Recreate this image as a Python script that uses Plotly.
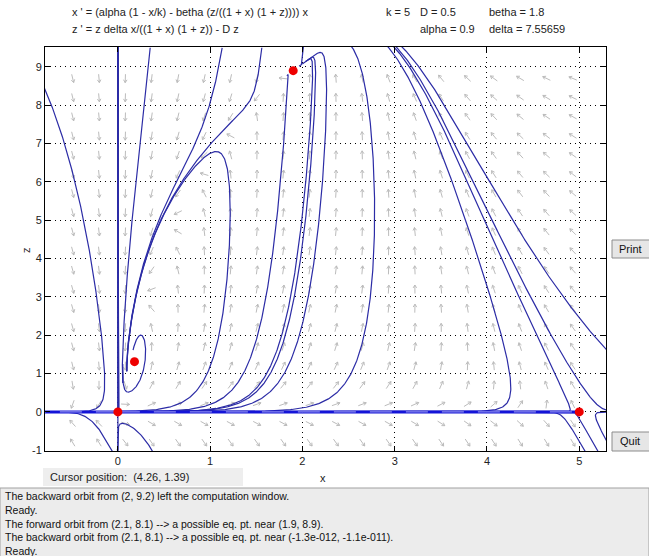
import numpy as np
import plotly.graph_objects as go

# ---- system parameters (from the header text) ----
alpha = 0.9
betha = 1.8
k = 5.0
D = 0.5
delta = 7.55659

# ---- window ----
X_RANGE = [-0.79, 5.29]
Z_RANGE = [-1.02, 9.52]
x_ticks = [0, 1, 2, 3, 4, 5]
z_ticks = [-1, 0, 1, 2, 3, 4, 5, 6, 7, 8, 9]

# ---- equilibrium points (red dots) ----
eq_x = [0.0, 5.0, 0.18, 1.9]
eq_z = [0.0, 0.0, 1.311, 8.902]

# ---- orbit seeds: start point, forward time, backward time, max winding near focus (rad) ----
seed_x = [-0.72, -0.20, 0.11, 0.0, 0.0,
          1.20, 1.67, 1.98, 2.13, 2.77,
          0.35, 1.13, 1.56,
          3.84, 4.07, 4.16, 4.41,
          4.96, 5.09, 5.24,
          0.30, 2.1, 2.0]
seed_z = [8.0, -0.47, -0.34, 5.0, -0.5,
          4.0, 4.0, 4.0, 4.0, 4.0,
          9.5, 9.5, 9.5,
          4.49, 4.49, 4.49, 4.49,
          -0.6, -0.55, -0.5,
          1.5, 8.1, 9.2]
t_fwd = [60, 60, 60, 80, 80,
         40, 40, 40, 40, 40,
         40, 40, 40,
         40, 40, 40, 40,
         40, 40, 40,
         7, 60, 60]
t_bwd = [60, 60, 60, 60, 60,
         40, 40, 40, 40, 40,
         0, 0, 0,
         40, 40, 40, 40,
         40, 40, 40,
         9, 60, 60]
wind = [9, 9, 9, 9, 9,
        2.4, 9, 9, 9, 9,
        2.4, 2.4, 2.4,
        9, 9, 9, 9,
        9, 9, 9,
        9, 9, 9]

# invariant line z = 0 (drawn heavy)
axis_seed_x = [-0.4, 2.5]
axis_seed_z = [0.0, 0.0]

# plot area in pixels
PL, PR, PT, PB = 45, 606, 47, 451
W, H = 649, 556
SX = (PR - PL) / (X_RANGE[1] - X_RANGE[0])
SZ = (PB - PT) / (Z_RANGE[1] - Z_RANGE[0])
FOCUS = (eq_x[2], eq_z[2])


def field(x, z):
    den = (1 + x) * (1 + z)
    return (alpha * (1 - x / k) - betha * (z / den)) * x, z * delta * x / den - D * z


def inside(x, z):
    return (X_RANGE[0] - 0.02 <= x <= X_RANGE[1] + 0.02) and (-0.995 <= z <= Z_RANGE[1] + 0.05)


def orbit(x0, z0, tmax, sgn, wlim=9.0):
    xs, zs = [x0], [z0]
    x, z, t = x0, z0, 0.0
    acc = 0.0
    prev = None
    while t < tmax:
        fx, fz = field(x, z)
        sp = np.hypot(fx * SX, fz * SZ)
        if sp < 1e-3:
            break
        h = min(1.2 / sp, 0.05) * sgn
        k1 = field(x, z)
        k2 = field(x + h / 2 * k1[0], z + h / 2 * k1[1])
        k3 = field(x + h / 2 * k2[0], z + h / 2 * k2[1])
        k4 = field(x + h * k3[0], z + h * k3[1])
        x = x + h / 6 * (k1[0] + 2 * k2[0] + 2 * k3[0] + k4[0])
        z = z + h / 6 * (k1[1] + 2 * k2[1] + 2 * k3[1] + k4[1])
        t += abs(h)
        xs.append(x)
        zs.append(z)
        dxp, dzp = (x - FOCUS[0]) * SX, (z - FOCUS[1]) * SZ
        if np.hypot(dxp, dzp) < 45:
            ang = np.arctan2(dzp, dxp)
            if prev is not None:
                d = (ang - prev + np.pi) % (2 * np.pi) - np.pi
                acc += abs(d)
            prev = ang
            if acc > wlim:
                break
        else:
            prev = None
        if not inside(x, z):
            if z < -0.99:
                dx, dz = xs[-1] - xs[-2], zs[-1] - zs[-2]
                if dz != 0:
                    s = (Z_RANGE[0] - 0.01 - zs[-1]) / dz
                    xs.append(xs[-1] + s * dx)
                    zs.append(Z_RANGE[0] - 0.01)
            break
    return xs, zs


def full_orbit(x0, z0, tf, tb, wl=9.0):
    bx, bz = orbit(x0, z0, tb, -1)
    fx, fz = orbit(x0, z0, tf, 1, wl)
    return bx[::-1] + fx[1:], bz[::-1] + fz[1:]


fig = go.Figure()

# ---- direction field arrows ----
arrow_cols = [-0.49 + 0.2853 * i for i in range(20)]
arrow_rows = [-0.8 + 0.5 * j for j in range(20)]
L = 8.5
HD = 3.4
ax_, az_ = [], []
for xc in arrow_cols:
    for zc in arrow_rows:
        fx, fz = field(xc, zc)
        ux, uz = fx * SX, fz * SZ
        n = np.hypot(ux, uz)
        if n == 0:
            continue
        ux, uz = ux / n, uz / n
        tx, tz = -L / 2 * ux, -L / 2 * uz
        hx, hz = L / 2 * ux, L / 2 * uz
        ax_ += [xc + tx / SX, xc + hx / SX, None]
        az_ += [zc + tz / SZ, zc + hz / SZ, None]
        for ang in (2.6, -2.6):
            c, s = np.cos(ang), np.sin(ang)
            bx = ux * c - uz * s
            bz = ux * s + uz * c
            ax_ += [xc + hx / SX, xc + (hx + HD * bx) / SX, None]
            az_ += [zc + hz / SZ, zc + (hz + HD * bz) / SZ, None]
fig.add_trace(go.Scatter(x=ax_, y=az_, mode="lines", line=dict(color="#bcbcbc", width=1),
                         hoverinfo="skip", showlegend=False))

# ---- orbits ----
for x0, z0, tf, tb, wl in zip(seed_x, seed_z, t_fwd, t_bwd, wind):
    ox, oz = full_orbit(x0, z0, tf, tb, wl)
    fig.add_trace(go.Scatter(x=ox, y=oz, mode="lines", line=dict(color="#2c2ca6", width=1.2),
                             hoverinfo="skip", showlegend=False))

for x0, z0 in zip(axis_seed_x, axis_seed_z):
    ox, oz = full_orbit(x0, z0, 80, 80)
    fig.add_trace(go.Scatter(x=ox, y=oz, mode="lines", line=dict(color="#1414d8", width=3),
                             hoverinfo="skip", showlegend=False))
    fig.add_trace(go.Scatter(x=ox, y=oz, mode="lines",
                             line=dict(color="#a8a8f0", width=1, dash="22px,14px"),
                             hoverinfo="skip", showlegend=False))

# ---- equilibria ----
fig.add_trace(go.Scatter(x=eq_x, y=eq_z, mode="markers",
                         marker=dict(color="#ee0000", size=9, line=dict(width=0)),
                         cliponaxis=False, hoverinfo="skip", showlegend=False))


def px(x):
    return (x - PL) / (PR - PL)


def py(y):
    return (PB - y) / (PB - PT)


FONT = "Liberation Sans, Arial, sans-serif"
ann = []


def text(x, y, s, size=11, anchor="left", color="#222"):
    ann.append(dict(x=px(x), y=py(y), xref="paper", yref="paper", text=s, showarrow=False,
                    xanchor=anchor, yanchor="middle", font=dict(family=FONT, size=size, color=color)))


text(70, 12, "x ' = (alpha (1 - x/k) - betha (z/((1 + x) (1 + z)))) x")
text(70, 29, "z ' = z delta x/((1 + x) (1 + z)) - D z")
text(384, 12, "k = 5")
text(418, 12, "D = 0.5")
text(487, 12, "betha = 1.8")
text(418, 29, "alpha = 0.9")
text(487, 29, "delta = 7.55659")
text(323, 478, "x", size=11, anchor="center")
ann.append(dict(x=px(18), y=py(250), xref="paper", yref="paper", text="z", showarrow=False,
                textangle=-90, font=dict(family=FONT, size=11, color="#222")))
text(48, 477, "Cursor position:  (4.26, 1.39)")
msgs = ["The backward orbit from (2, 9.2) left the computation window.",
        "Ready.",
        "The forward orbit from (2.1, 8.1) --> a possible eq. pt. near (1.9, 8.9).",
        "The backward orbit from (2.1, 8.1) --> a possible eq. pt. near (-1.3e-012, -1.1e-011).",
        "Ready."]
for i, m in enumerate(msgs):
    text(3, 496 + 13.8 * i, m, size=10.5, color="#111")
text(630, 249, "Print", anchor="center", color="#111")
text(630, 441, "Quit", anchor="center", color="#111")

shapes = [
    dict(type="rect", xref="paper", yref="paper", x0=px(0), x1=px(649), y0=py(488), y1=py(557),
         fillcolor="#ececec", line=dict(color="#a0a0a0", width=1), layer="below"),
    dict(type="rect", xref="paper", yref="paper", x0=px(43), x1=px(243), y0=py(468), y1=py(486),
         fillcolor="#eeeeee", line=dict(width=0), layer="below"),
    dict(type="rect", xref="paper", yref="paper", x0=px(612), x1=px(652), y0=py(240), y1=py(258),
         fillcolor="#e6e6e6", line=dict(color="#8c8c8c", width=1)),
    dict(type="rect", xref="paper", yref="paper", x0=px(612), x1=px(652), y0=py(432), y1=py(451),
         fillcolor="#e6e6e6", line=dict(color="#8c8c8c", width=1)),
]

fig.update_layout(
    width=W, height=H,
    margin=dict(l=PL, r=W - PR, t=PT, b=H - PB),
    paper_bgcolor="white", plot_bgcolor="white",
    annotations=ann, shapes=shapes,
    xaxis=dict(range=X_RANGE, tickvals=x_ticks, ticktext=[str(v) for v in x_ticks],
               showgrid=True, gridcolor="#000000", griddash="1px,4px", gridwidth=1,
               zeroline=False, showline=True, linecolor="black", linewidth=1, mirror="ticks",
               ticks="inside", ticklen=5, tickcolor="black",
               tickfont=dict(family=FONT, size=11, color="#222")),
    yaxis=dict(range=Z_RANGE, tickvals=z_ticks, ticktext=[str(v) for v in z_ticks],
               showgrid=True, gridcolor="#000000", griddash="1px,4px", gridwidth=1,
               zeroline=False, showline=True, linecolor="black", linewidth=1, mirror="ticks",
               ticks="inside", ticklen=5, tickcolor="black",
               tickfont=dict(family=FONT, size=11, color="#222")),
)

fig.write_html("out.html", config={"displayModeBar": False},
               post_script="document.body.style.margin='0px';document.body.style.overflow='hidden';")
